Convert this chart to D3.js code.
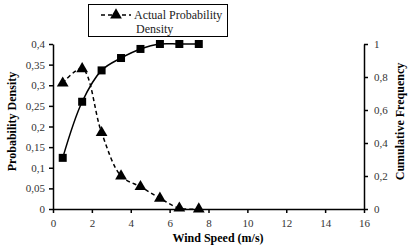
<!DOCTYPE html>
<html lang="en">
<head>
<meta charset="UTF-8">
<title>Wind speed distribution</title>
<script src="https://d3js.org/d3.v7.min.js"></script>
<style>
  body { margin: 0; background: #fff; }
  svg text { font-family: "Liberation Serif", "DejaVu Serif", serif; fill: #222; }
  .axis path, .axis line { stroke: #000; stroke-width: 1.5; }
  .axis text { font-size: 11px; fill: #333; }
  .title { font-size: 12px; font-weight: bold; fill: #000; }
</style>
</head>
<body>
<div id="chart"></div>
<script>
// wind speed bins (m/s)
const speeds = [0.5, 1.5, 2.5, 3.5, 4.5, 5.5, 6.5, 7.5];
// actual probability density (left axis)
const density = [0.305, 0.34, 0.185, 0.08, 0.054, 0.026, 0.002, 0.0];
// cumulative frequency (right axis)
const cumulative = [0.31, 0.65, 0.84, 0.915, 0.97, 1.0, 1.0, 1.0];

const xTicks = [0, 2, 4, 6, 8, 10, 12, 14, 16];
const leftTicks = [0, 0.05, 0.1, 0.15, 0.2, 0.25, 0.3, 0.35, 0.4];
const rightTicks = [0, 0.2, 0.4, 0.6, 0.8, 1];

const W = 416, H = 246;
const margin = { top: 44, right: 52, bottom: 37, left: 53 };
const width = W - margin.left - margin.right;
const height = H - margin.top - margin.bottom;
const serif = '"Liberation Serif", "DejaVu Serif", serif';

const fmt = d => String(+d.toFixed(2)).replace(".", ",");

const svg = d3.select("#chart").append("svg")
  .attr("width", W).attr("height", H)
  .style("font-family", serif);
const g = svg.append("g").attr("transform", `translate(${margin.left},${margin.top})`);

const x = d3.scaleLinear().domain([0, 16]).range([0, width]);
const yL = d3.scaleLinear().domain([0, 0.4]).range([height, 0]);
const yR = d3.scaleLinear().domain([0, 1]).range([height, 0]);

// axes
g.append("g").attr("class", "axis")
  .attr("transform", `translate(0,${height})`)
  .call(d3.axisBottom(x).tickValues(xTicks).tickSize(4).tickSizeOuter(0).tickPadding(4).tickFormat(d => d))
  .call(a => a.attr("font-family", serif).selectAll("text").attr("dy", "0.9em"));

g.append("g").attr("class", "axis")
  .call(d3.axisLeft(yL).tickValues(leftTicks).tickSize(4).tickSizeOuter(0).tickPadding(4).tickFormat(fmt))
  .attr("font-family", serif);

g.append("g").attr("class", "axis")
  .attr("transform", `translate(${width},0)`)
  .call(d3.axisRight(yR).tickValues(rightTicks).tickSize(4).tickSizeOuter(0).tickPadding(6).tickFormat(fmt))
  .attr("font-family", serif);

// cumulative curve (solid, squares)
const cumLine = d3.line()
  .x((d, i) => x(speeds[i]))
  .y(d => yR(d))
  .curve(d3.curveCatmullRom.alpha(0.5));

g.append("path").datum(cumulative)
  .attr("d", cumLine)
  .attr("fill", "none").attr("stroke", "#000").attr("stroke-width", 1.5);

g.selectAll(".sq").data(cumulative).join("rect")
  .attr("x", (d, i) => x(speeds[i]) - 4)
  .attr("y", d => yR(d) - 4)
  .attr("width", 8).attr("height", 8)
  .attr("fill", "#000");

// probability density curve (dashed, triangles)
const denLine = d3.line()
  .x((d, i) => x(speeds[i]))
  .y(d => yL(d))
  .curve(d3.curveCatmullRom.alpha(0.5));

g.append("path").datum(density)
  .attr("d", denLine)
  .attr("fill", "none").attr("stroke", "#000").attr("stroke-width", 1.5)
  .attr("stroke-dasharray", "4,3");

const tri = d3.symbol().type(d3.symbolTriangle).size(60);
g.selectAll(".tri").data(density).join("path")
  .attr("transform", (d, i) => `translate(${x(speeds[i])},${yL(d)})`)
  .attr("d", tri)
  .attr("fill", "#000");

// axis titles
svg.append("text").attr("class", "title")
  .attr("transform", `translate(16,${margin.top + height / 2 - 5}) rotate(-90)`)
  .attr("text-anchor", "middle")
  .text("Probability Density");

svg.append("text").attr("class", "title")
  .attr("transform", `translate(404,${margin.top + height / 2 - 5}) rotate(-90)`)
  .attr("text-anchor", "middle")
  .text("Cumulative Frequency");

svg.append("text").attr("class", "title")
  .attr("x", 218).attr("y", 242)
  .attr("text-anchor", "middle")
  .text("Wind Speed (m/s)");

// legend
const lg = svg.append("g");
lg.append("rect")
  .attr("x", 88.5).attr("y", 4.5).attr("width", 139).attr("height", 32)
  .attr("fill", "#fff").attr("stroke", "#000").attr("stroke-width", 1);
lg.append("line")
  .attr("x1", 101).attr("x2", 131).attr("y1", 15).attr("y2", 15)
  .attr("stroke", "#000").attr("stroke-width", 1.5).attr("stroke-dasharray", "4,3");
lg.append("path")
  .attr("transform", "translate(116,15)")
  .attr("d", tri).attr("fill", "#000");
lg.append("text").attr("x", 134).attr("y", 19)
  .style("font-size", "12px").text("Actual Probability");
lg.append("text").attr("x", 136).attr("y", 33)
  .style("font-size", "12px").text("Density");
</script>
</body>
</html>
